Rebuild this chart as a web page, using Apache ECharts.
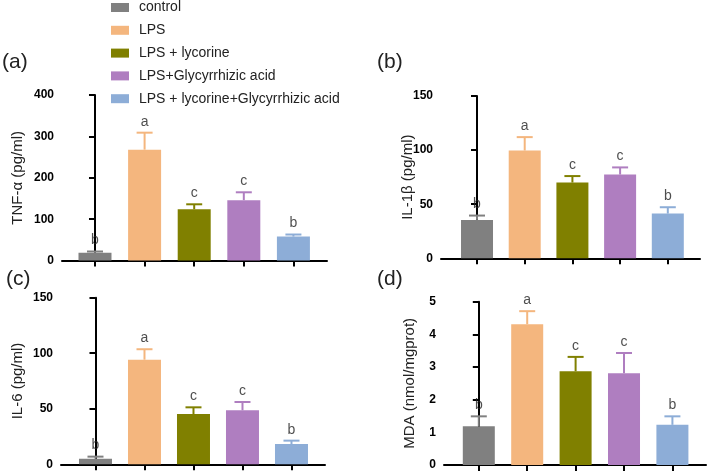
<!DOCTYPE html>
<html>
<head>
<meta charset="utf-8">
<script src="https://cdn.jsdelivr.net/npm/echarts@6/dist/echarts.min.js"></script>
<style>html,body{margin:0;padding:0;background:#fff;}#c{width:708px;height:475px;}</style>
</head>
<body>
<div id="c"></div>
<script>
const groups = ['control', 'LPS', 'LPS + lycorine', 'LPS+Glycyrrhizic acid', 'LPS + lycorine+Glycyrrhizic acid'];
const colors = ['#808080', '#F4B67E', '#808000', '#AF7EC0', '#8DADD7'];

const tnfMean = [19, 268, 124, 146, 58];
const tnfSD   = [3, 41, 12, 19, 5];
const tnfLetters = ['b', 'a', 'c', 'c', 'b'];

const il1bMean = [35.5, 99.6, 70, 77.4, 41.3];
const il1bSD   = [4, 12.4, 6, 6.6, 5.9];
const il1bLetters = ['b', 'a', 'c', 'c', 'b'];

const il6Mean = [5, 94.2, 45.3, 48.6, 18.3];
const il6SD   = [1.9, 9.4, 6, 7.5, 3];
const il6Letters = ['b', 'a', 'c', 'c', 'b'];

const mdaMean = [1.19, 4.31, 2.87, 2.81, 1.23];
const mdaSD   = [0.30, 0.40, 0.44, 0.62, 0.26];
const mdaLetters = ['b', 'a', 'c', 'c', 'b'];

const panelLabels = ['(a)', '(b)', '(c)', '(d)'];
const yNames = ['TNF-α (pg/ml)', 'IL-1β (pg/ml)', 'IL-6 (pg/ml)', 'MDA (nmol/mgprot)'];
const yMax = [400, 150, 150, 5];
const yInterval = [100, 50, 50, 1];

const panels = [
  {mean: tnfMean, sd: tnfSD, letters: tnfLetters},
  {mean: il1bMean, sd: il1bSD, letters: il1bLetters},
  {mean: il6Mean, sd: il6SD, letters: il6Letters},
  {mean: mdaMean, sd: mdaSD, letters: mdaLetters}
];

// layout
const layout = [
  {grid: {left: 62, top: 95, width: 265, height: 165.6}, xmin: -0.665, xmax: 4.677, bw: 33, nameGap: 37, title: {left: 2, top: 52}},
  {grid: {left: 441, top: 96, width: 259, height: 162.3}, xmin: -0.755, xmax: 4.675, bw: 32, nameGap: 26, title: {left: 377, top: 52}},
  {grid: {left: 61, top: 297.7, width: 264, height: 166.6}, xmin: -0.704, xmax: 4.684, bw: 33, nameGap: 36, title: {left: 6, top: 269}},
  {grid: {left: 444, top: 301.7, width: 262, height: 163.3}, xmin: -0.719, xmax: 4.694, bw: 32, nameGap: 27, title: {left: 377, top: 269}}
];

const font = 'Arial, "Liberation Sans", sans-serif';
const grids = [], xAxes = [], yAxes = [], series = [], titles = [];
panels.forEach((p, k) => {
  const L = layout[k];
  grids.push(Object.assign({containLabel: false}, L.grid));
  titles.push({text: panelLabels[k], left: L.title.left, top: L.title.top, padding: 0,
    textStyle: {fontFamily: font, fontSize: 21, fontWeight: 'normal', color: '#222'}});
  xAxes.push({
    type: 'value', gridIndex: k, min: L.xmin, max: L.xmax,
    axisLine: {show: true, onZero: false, lineStyle: {color: '#000', width: 2}},
    axisTick: {show: true, customValues: [0, 1, 2, 3, 4], length: 6, lineStyle: {color: '#000', width: 2}},
    axisLabel: {show: false},
    splitLine: {show: false}
  });
  yAxes.push({
    type: 'value', gridIndex: k, min: 0, max: yMax[k], interval: yInterval[k],
    name: yNames[k], nameLocation: 'middle', nameGap: L.nameGap, nameMoveOverlap: false,
    nameTextStyle: {fontFamily: font, fontSize: 15, color: '#222'},
    axisLine: {show: true, lineStyle: {color: '#000', width: 2}},
    axisTick: {show: true, length: 6, lineStyle: {color: '#000', width: 2}},
    axisLabel: {fontFamily: font, fontSize: 12, fontWeight: 'bold', color: '#000', margin: 8},
    splitLine: {show: false}
  });
  groups.forEach((g, i) => {
    series.push({
      type: 'bar', name: g, xAxisIndex: k, yAxisIndex: k,
      barWidth: L.bw, barGap: '-100%',
      itemStyle: {color: colors[i]},
      data: [[i, p.mean[i]]],
      z: 2
    });
  });
  series.push({
    type: 'custom', xAxisIndex: k, yAxisIndex: k, z: 3, clip: false,
    data: p.mean.map((m, i) => [i, m, m + p.sd[i]]),
    renderItem: function (params, api) {
      const i = api.value(0);
      const base = api.coord([i, api.value(1)]);
      const top = api.coord([i, api.value(2)]);
      const c = colors[params.dataIndex];
      const cap = 8;
      return {
        type: 'group',
        children: [
          {type: 'line', shape: {x1: base[0], y1: base[1], x2: top[0], y2: top[1]}, style: {stroke: c, lineWidth: 2}},
          {type: 'line', shape: {x1: top[0] - cap, y1: top[1], x2: top[0] + cap, y2: top[1]}, style: {stroke: c, lineWidth: 2}}
        ]
      };
    }
  });
  series.push({
    type: 'scatter', xAxisIndex: k, yAxisIndex: k, z: 4, symbolSize: 0, silent: true,
    data: p.mean.map((m, i) => ({value: [i, m + p.sd[i]], label: {formatter: p.letters[i]}})),
    label: {show: true, position: 'top', distance: 4, fontFamily: font, fontSize: 14, color: '#222'},
    labelLayout: {hideOverlap: false}
  });
});

const chart = echarts.init(document.getElementById('c'), null, {renderer: 'canvas'});
chart.setOption({
  backgroundColor: '#fff',
  animation: false,
  title: titles,
  legend: {
    data: groups, orient: 'vertical', left: 111, top: 0.5,
    icon: 'rect', itemWidth: 18, itemHeight: 9, itemGap: 8.8,
    textStyle: {fontFamily: font, fontSize: 14, color: '#222', padding: [0, 0, 0, 5]},
    padding: 0
  },
  grid: grids,
  xAxis: xAxes,
  yAxis: yAxes,
  series: series
});
</script>
</body>
</html>
